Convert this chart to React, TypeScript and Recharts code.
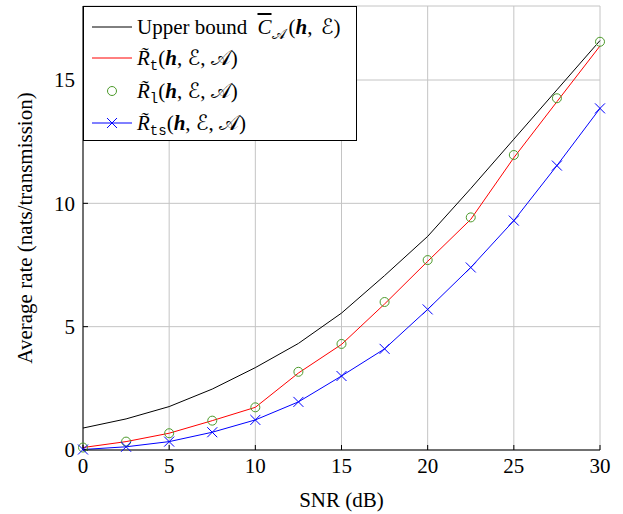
import React from 'react';
import { LineChart, Line, XAxis, YAxis, CartesianGrid } from 'recharts';

// SNR grid (dB) and the four curves
const snr = [0, 2.5, 5, 7.5, 10, 12.5, 15, 17.5, 20, 22.5, 25, 27.5, 30];
const upperBound = [0.89, 1.26, 1.76, 2.47, 3.34, 4.32, 5.55, 7.07, 8.66, 10.6, 12.6, 14.6, 16.6];
const rateT = [0.1, 0.34, 0.68, 1.19, 1.73, 3.12, 4.28, 5.92, 7.65, 9.35, 11.85, 14.12, 16.38];
const rateL = [0.1, 0.34, 0.68, 1.19, 1.73, 3.17, 4.3, 6.0, 7.7, 9.43, 11.96, 14.26, 16.55];
const rateTs = [0.02, 0.13, 0.34, 0.72, 1.22, 1.95, 3.0, 4.1, 5.7, 7.4, 9.3, 11.53, 13.85];

const xTicks = [0, 5, 10, 15, 20, 25, 30];
const yTicks = [0, 5, 10, 15];

const data = snr.map((s, i) => ({
  snr: s,
  upper: upperBound[i],
  rt: rateT[i],
  rl: rateL[i],
  rts: rateTs[i],
}));

const SERIF = '"Liberation Serif", "Times New Roman", serif';
const MATH = '"Liberation Serif", "DejaVu Serif", "DejaVu Sans", serif';
const MONO = '"Liberation Mono", "DejaVu Sans Mono", monospace';
const GREEN = '#4c9a2a';
const BLUE = '#0000ff';

function Cross(props: any) {
  const { cx, cy } = props;
  if (cx == null || cy == null) return <g />;
  return (
    <path
      d={`M${cx - 5},${cy - 5}L${cx + 5},${cy + 5}M${cx - 5},${cy + 5}L${cx + 5},${cy - 5}`}
      stroke={BLUE}
      strokeWidth={1}
      fill="none"
    />
  );
}

const tickStyle = { fill: '#000', fontSize: 21, fontFamily: SERIF };

const Sub = ({ children, mono }: { children: React.ReactNode; mono?: boolean }) => (
  <span style={{ fontSize: mono ? 14 : 15, verticalAlign: -5, fontFamily: mono ? MONO : MATH, fontStyle: 'normal' }}>
    {children}
  </span>
);

const Args = ({ withA, wide }: { withA?: boolean; wide?: boolean }) => (
  <span style={{ marginLeft: wide ? 3 : 0 }}>
    (<b><i>h</i></b>,{wide ? <span style={{ marginLeft: 3 }} /> : null} <span style={{ fontFamily: MATH }}>ℰ</span>
    {withA ? <>, <span style={{ fontFamily: MATH }}>𝒜</span></> : null})
  </span>
);

const RT = () => <i>R{'\u0303'}</i>;

function LegendBox() {
  const rows: { center: number; sym: React.ReactNode; text: React.ReactNode }[] = [
    {
      center: 20,
      sym: <line x1={0} y1={16} x2={40} y2={16} stroke="#000" strokeWidth={1} />,
      text: (
        <>
          Upper bound <i style={{ textDecoration: 'overline', marginLeft: 5 }}>C</i>
          <Sub>𝒜</Sub>
          <Args wide />
        </>
      ),
    },
    {
      center: 51,
      sym: <line x1={0} y1={16} x2={40} y2={16} stroke="#ff0000" strokeWidth={1} />,
      text: (
        <>
          <RT />
          <Sub mono>t</Sub>
          <Args withA />
        </>
      ),
    },
    {
      center: 84,
      sym: <circle cx={20} cy={16} r={4.5} stroke={GREEN} fill="none" strokeWidth={1} />,
      text: (
        <>
          <RT />
          <Sub mono>l</Sub>
          <Args withA />
        </>
      ),
    },
    {
      center: 116,
      sym: (
        <>
          <line x1={0} y1={16} x2={40} y2={16} stroke={BLUE} strokeWidth={1} />
          <path d="M15,11L25,21M15,21L25,11" stroke={BLUE} strokeWidth={1} />
        </>
      ),
      text: (
        <>
          <RT />
          <Sub mono>ts</Sub>
          <Args withA />
        </>
      ),
    },
  ];
  return (
    <div
      style={{
        position: 'absolute',
        left: 83,
        top: 6,
        width: 274,
        height: 135,
        boxSizing: 'border-box',
        border: '1px solid #000',
        background: '#fff',
        fontFamily: SERIF,
        fontSize: 21,
        color: '#000',
      }}
    >
      {rows.map((r, i) => (
        <div key={i} style={{ position: 'absolute', left: 0, right: 0, top: r.center - 16, height: 32 }}>
          <svg width={40} height={32} style={{ position: 'absolute', left: 8, top: 0 }}>
            {r.sym}
          </svg>
          <div style={{ position: 'absolute', left: 53, top: 0, height: 32, lineHeight: '32px', whiteSpace: 'nowrap' }}>
            {r.text}
          </div>
        </div>
      ))}
    </div>
  );
}

export default function App() {
  return (
    <div style={{ position: 'absolute', left: 0, top: 0, width: 623, height: 514, background: '#fff' }}>
      <LineChart width={623} height={514} data={data} margin={{ top: 6, right: 23, left: 0, bottom: 0 }}>
        <CartesianGrid stroke="#c4c4c4" strokeWidth={1} />
        <XAxis
          dataKey="snr"
          type="number"
          domain={[0, 30]}
          ticks={xTicks}
          height={64}
          stroke="#000"
          tickSize={-5}
          tickMargin={13}
          tick={tickStyle}
          label={{
            content: (p: any) => {
              const vb = p.viewBox;
              return (
                <text x={vb.x + vb.width / 2} y={vb.y + 57} textAnchor="middle" fontSize={21} fontFamily={SERIF} fill="#000">
                  SNR (dB)
                </text>
              );
            },
          }}
        />
        <XAxis
          xAxisId="top"
          orientation="top"
          dataKey="snr"
          type="number"
          domain={[0, 30]}
          ticks={xTicks}
          height={0}
          stroke="#000"
          tickSize={-5}
          tick={() => <g />}
        />
        <YAxis
          type="number"
          domain={[0, 18]}
          ticks={yTicks}
          width={83}
          stroke="#000"
          tickSize={-5}
          tickMargin={13}
          tick={tickStyle}
          label={{
            content: (p: any) => {
              const vb = p.viewBox;
              const x = vb.x + 32;
              const y = vb.y + vb.height / 2;
              return (
                <text x={x} y={y} textAnchor="middle" fontSize={21} fontFamily={SERIF} fill="#000" transform={`rotate(-90, ${x}, ${y})`}>
                  Average rate (nats/transmission)
                </text>
              );
            },
          }}
        />
        <YAxis
          yAxisId="right"
          orientation="right"
          type="number"
          domain={[0, 18]}
          ticks={yTicks}
          width={0}
          stroke="#000"
          tickSize={-5}
          tick={() => <g />}
        />
        <Line dataKey="upper" type="linear" stroke="#000" strokeWidth={1} dot={false} activeDot={false} isAnimationActive={false} />
        <Line dataKey="rt" type="linear" stroke="#ff0000" strokeWidth={1} dot={false} activeDot={false} isAnimationActive={false} />
        <Line
          dataKey="rl"
          type="linear"
          stroke="none"
          dot={{ r: 4.5, stroke: GREEN, strokeWidth: 1, fill: 'none' }}
          activeDot={false}
          isAnimationActive={false}
        />
        <Line
          dataKey="rts"
          type="linear"
          stroke={BLUE}
          strokeWidth={1}
          dot={(p: any) => <Cross key={`x-${p.index}`} {...p} />}
          activeDot={false}
          isAnimationActive={false}
        />
      </LineChart>
      <LegendBox />
    </div>
  );
}
